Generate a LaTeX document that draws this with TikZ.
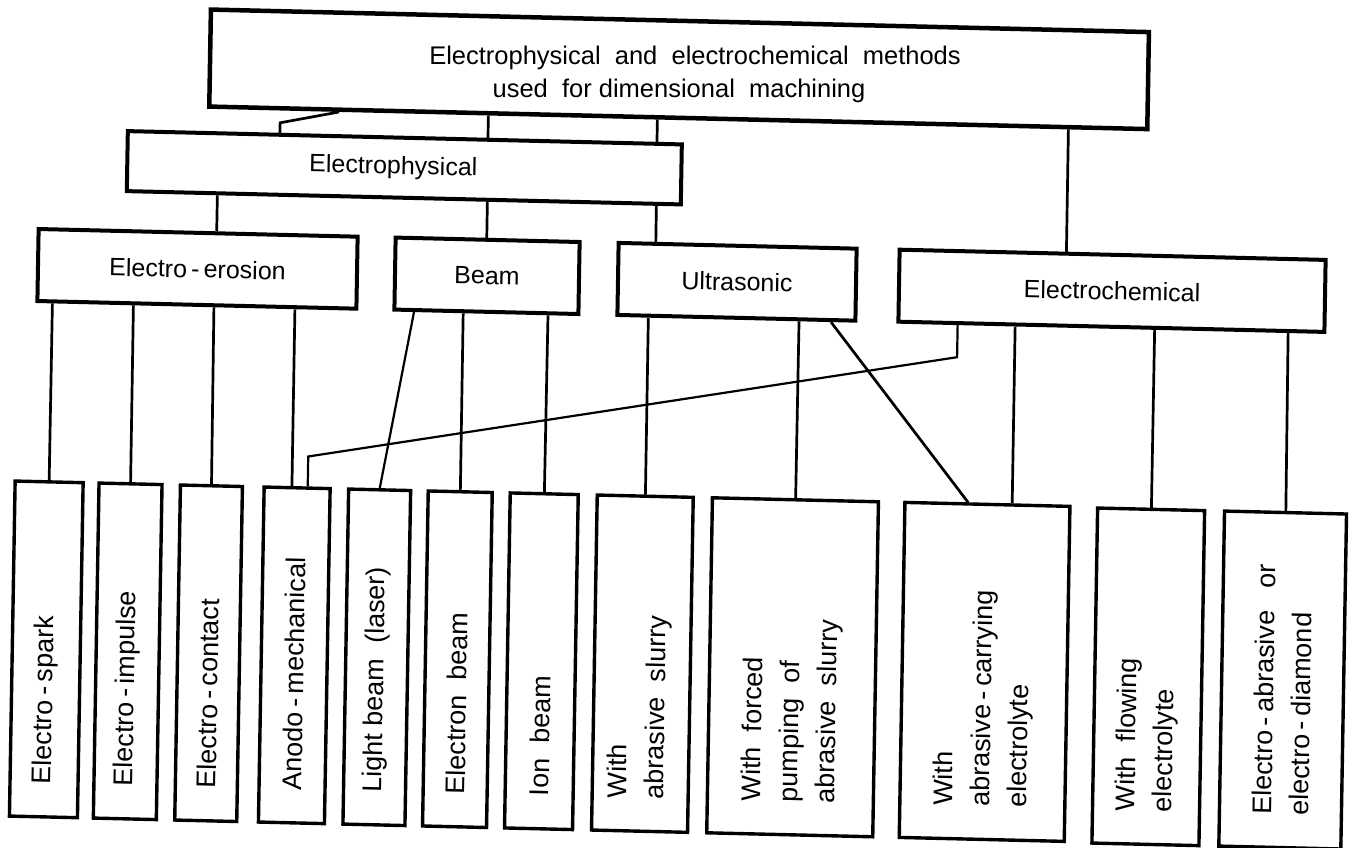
\documentclass[tikz,border=0pt]{standalone}
\usepackage{fontspec}
\setmainfont{Liberation Sans}
\begin{document}
\begin{tikzpicture}[x=1pt,y=1pt,
  box/.style={draw, line width=4pt, inner sep=0pt, font=\fontsize{25}{30}\selectfont},
  leaf/.style={draw, line width=3.4pt, inner sep=0pt, minimum height=335pt},
  vlabel/.style={rotate=90, anchor=west, align=left, inner sep=0pt, font=\fontsize{27}{37}\selectfont},
  tlabel/.style={align=center, inner sep=0pt, font=\fontsize{25.5}{33}\selectfont},
  conn/.style={line width=2.7pt},
  thin/.style={line width=2.2pt}]
\useasboundingbox (0,0) rectangle (1363,-848);
\begin{scope}[cm={1,-0.024,0.017,1,(0,0)}, transform shape]
% top
\node[box, line width=4.5pt, minimum width=938pt, minimum height=97pt] (top) at (680,-53) {};
% level 2
\node[box, minimum width=554pt, minimum height=60pt] (ephys) at (407,-158) {Electrophysical\hspace*{22pt}};
\node[box, minimum width=319pt, minimum height=72pt] (eros) at (202,-264) {Electro\,-\,erosion};
\node[box, minimum width=184pt, minimum height=72pt] (beam) at (491.5,-264) {Beam};
\node[box, minimum width=238pt, minimum height=72pt] (ultra) at (741.5,-264) {Ultrasonic};
\node[box, minimum width=426pt, minimum height=72pt] (echem) at (1116.5,-264) {Electrochemical};
% leaves
\node[leaf, minimum width=68pt] (b1) at (57.3,-648) {};
\node[leaf, minimum width=63pt] (b2) at (138.7,-648) {};
\node[leaf, minimum width=62pt] (b3) at (219.6,-648) {};
\node[leaf, minimum width=66pt] (b4) at (305.3,-648) {};
\node[leaf, minimum width=62pt] (b5) at (387.8,-648) {};
\node[leaf, minimum width=64pt] (b6) at (468.4,-648) {};
\node[leaf, minimum width=68pt] (b7) at (552.4,-648) {};
\node[leaf, minimum width=96pt] (b8) at (653.4,-648) {};
\node[leaf, minimum width=166pt] (b9) at (803.6,-648) {};
\node[leaf, minimum width=165pt] (b10) at (995.6,-648) {};
\node[leaf, minimum width=107pt] (b11) at (1159.3,-649) {};
\node[leaf, minimum width=122pt] (b12) at (1293.7,-649) {};
% leaf labels
\node[vlabel] (l1) at (57.3,-783) {Electro\,-\,spark};
\node[vlabel] (l2) at (138.7,-783) {Electro\,-\,impulse};
\node[vlabel] (l3) at (219.6,-783) {Electro\,-\,contact};
\node[vlabel] (l4) at (305.3,-783) {Anodo\,-\,mechanical};
\node[vlabel] (l5) at (387.8,-783) {Light beam\ \ (laser)};
\node[vlabel] (l6) at (468.4,-783) {Electron\ \ beam};
\node[vlabel] (l7) at (552.4,-783) {Ion\ \ beam};
\node[vlabel] (l8) at (651,-783) {With\\abrasive\ \ slurry};
\node[vlabel] (l9) at (803.6,-783) {With\ \ forced\\pumping\ \ of\\abrasive\ \ slurry};
\node[vlabel] (l10) at (995.6,-783) {With\\abrasive\,-\,carrying\\electrolyte};
\node[vlabel] (l11) at (1159.3,-784) {With\ \ flowing\\electrolyte};
\node[vlabel] (l12) at (1293.7,-784) {Electro\,-\,abrasive\ \ \ or\\electro\,-\,diamond};
% connectors top -> level 2
\draw[conn] ([xshift=-339.3pt]top.south) -- ([xshift=-125pt,yshift=10pt]ephys.north) -- ([xshift=-125pt]ephys.north);
\draw[conn] ([xshift=-190pt]top.south) -- ([xshift=83pt]ephys.north);
\draw[conn] ([xshift=-21pt]top.south) -- ([xshift=252pt]ephys.north);
\draw[conn] ([xshift=390pt]top.south) -- ([xshift=-46.5pt]echem.north);
\draw[conn] ([xshift=-186.5pt]ephys.south) -- ([xshift=18.5pt]eros.north);
\draw[conn] ([xshift=83.5pt]ephys.south) -- ([xshift=-1pt]beam.north);
\draw[conn] ([xshift=252.5pt]ephys.south) -- ([xshift=-82pt]ultra.north);
% level 2 -> leaves
\draw[conn] ([xshift=-144.5pt]eros.south) -- (b1.north);
\draw[conn] ([xshift=-63.5pt]eros.south) -- (b2.north);
\draw[conn] ([xshift=17pt]eros.south) -- (b3.north);
\draw[conn] ([xshift=98pt]eros.south) -- ([xshift=-5.3pt]b4.north);
\draw[thin] ([xshift=-72.5pt]beam.south) -- (b5.north);
\draw[conn] ([xshift=-23.3pt]beam.south) -- (b6.north);
\draw[conn] ([xshift=61.5pt]beam.south) -- (b7.north);
\draw[conn] ([xshift=-88.2pt]ultra.south) -- (b8.north);
\draw[conn] ([xshift=62.5pt]ultra.south) -- (b9.north);
\draw[conn] ([xshift=94.5pt]ultra.south) -- ([xshift=-19.6pt]b10.north);
\draw[conn] ([xshift=-96.5pt]echem.south) -- ([xshift=24.5pt]b10.north);
\draw[conn] ([xshift=43pt]echem.south) -- (b11.north);
\draw[conn] ([xshift=176.5pt]echem.south) -- (b12.north);
\draw[thin] ([xshift=-154pt]echem.south) -- ([xshift=-154pt,yshift=-32pt]echem.south)
  -- ([xshift=10.5pt,yshift=30pt]b4.north) -- ([xshift=10.5pt]b4.north);
\end{scope}
% title text, set level so that its two lines do not collide
\node[tlabel] (t1) at (679,-74) {\hspace*{32pt}Electrophysical\ \ and\ \ electrochemical\ \ methods\\used\ \ for dimensional\ \ machining};
\end{tikzpicture}
\end{document}
